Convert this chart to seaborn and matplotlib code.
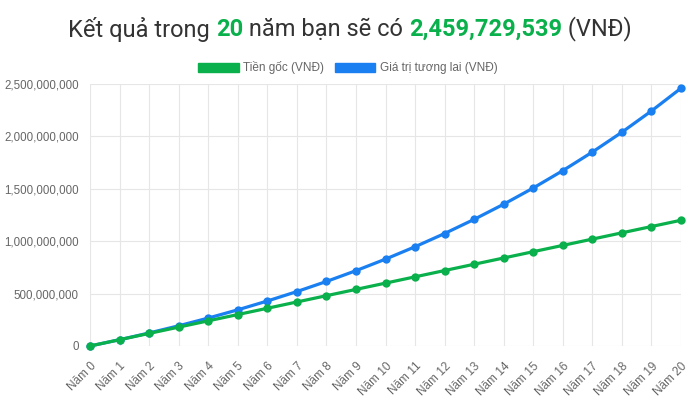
import matplotlib
matplotlib.use("Agg")
import matplotlib.pyplot as plt
import seaborn as sns
import pandas as pd
from matplotlib.patches import Patch
from matplotlib.ticker import FuncFormatter

years = [f"Năm {i}" for i in range(21)]
tien_goc = [0, 60000000, 120000000, 180000000, 240000000, 300000000, 360000000,
            420000000, 480000000, 540000000, 600000000, 660000000, 720000000,
            780000000, 840000000, 900000000, 960000000, 1020000000, 1080000000,
            1140000000, 1200000000]
gia_tri = [0, 60000000, 124200000, 192894000, 266396580, 345044341, 429197444,
           519241266, 615588154, 718679325, 828986878, 947015959, 1073307076,
           1208438572, 1353029272, 1507741320, 1673283213, 1850413038,
           2039941951, 2242737888, 2459729539]
series_names = ["Tiền gốc (VNĐ)", "Giá trị tương lai (VNĐ)"]

GREEN = "#0ab04b"
BLUE = "#1a7ff0"
TXT = "#666666"
GRID = "#e6e6e6"

sns.set_theme(style="white")
plt.rcParams["font.family"] = ["Liberation Sans", "DejaVu Sans"]

df = pd.DataFrame({"idx": list(range(len(years))), "goc": tien_goc, "gt": gia_tri})

fig = plt.figure(figsize=(7.0, 4.07), dpi=100)
ax = fig.add_axes([90/700, 1-346/407, (681-90)/700, (346-84)/407])

sns.lineplot(data=df, x="idx", y="gt", ax=ax, color=BLUE, linewidth=2.3,
             marker="o", markersize=6, markeredgewidth=0, clip_on=False, zorder=3)
sns.lineplot(data=df, x="idx", y="goc", ax=ax, color=GREEN, linewidth=2.3,
             marker="o", markersize=6, markeredgewidth=0, clip_on=False, zorder=4)

ax.set_xlim(0, 20)
ax.set_ylim(0, 2500000000)
ax.set_xticks(range(len(years)))
ax.set_xticklabels(years, rotation=45, ha="right", rotation_mode="anchor",
                   fontsize=8.5, color=TXT)
ax.set_yticks([0, 500000000, 1000000000, 1500000000, 2000000000, 2500000000])
ax.yaxis.set_major_formatter(FuncFormatter(lambda v, p: f"{int(v):,}"))
ax.set_xlabel("")
ax.set_ylabel("")
ax.grid(True, color=GRID, linewidth=0.8)
ax.set_axisbelow(True)
for s in ax.spines.values():
    s.set_visible(False)
ax.tick_params(axis="both", length=6, width=0.8, color=GRID, pad=2)
ax.tick_params(axis="y", labelsize=8.3, labelcolor=TXT, pad=2)
ax.tick_params(axis="x", pad=4)

handles = [Patch(facecolor=GREEN, edgecolor=GREEN), Patch(facecolor=BLUE, edgecolor=BLUE)]
fig.legend(handles, series_names, loc="center", bbox_to_anchor=(348/700, 1-68/407),
           ncol=2, frameon=False, fontsize=8.5, handlelength=3.4, handleheight=0.9,
           handletextpad=0.4, columnspacing=0.9, labelcolor=TXT)

# Title with colored bold parts
parts = [("Kết quả trong ", "#333333", "normal"), ("20", GREEN, "bold"),
         (" năm bạn sẽ có ", "#333333", "normal"), ("2,459,729,539", GREEN, "bold"),
         (" (VNĐ)", "#333333", "normal")]
fig.canvas.draw()
renderer = fig.canvas.get_renderer()
texts = []
for s, c, w in parts:
    t = fig.text(0, 1-29/407, s, color=c, fontweight=w, fontsize=17,
                 family=["Roboto", "DejaVu Sans"], va="center", ha="left")
    texts.append(t)
widths = [t.get_window_extent(renderer).width for t in texts]
total = sum(widths)
x = (700 - total) / 2
for t, w in zip(texts, widths):
    t.set_x(x / 700)
    x += w

fig.savefig("out.png", dpi=100)
